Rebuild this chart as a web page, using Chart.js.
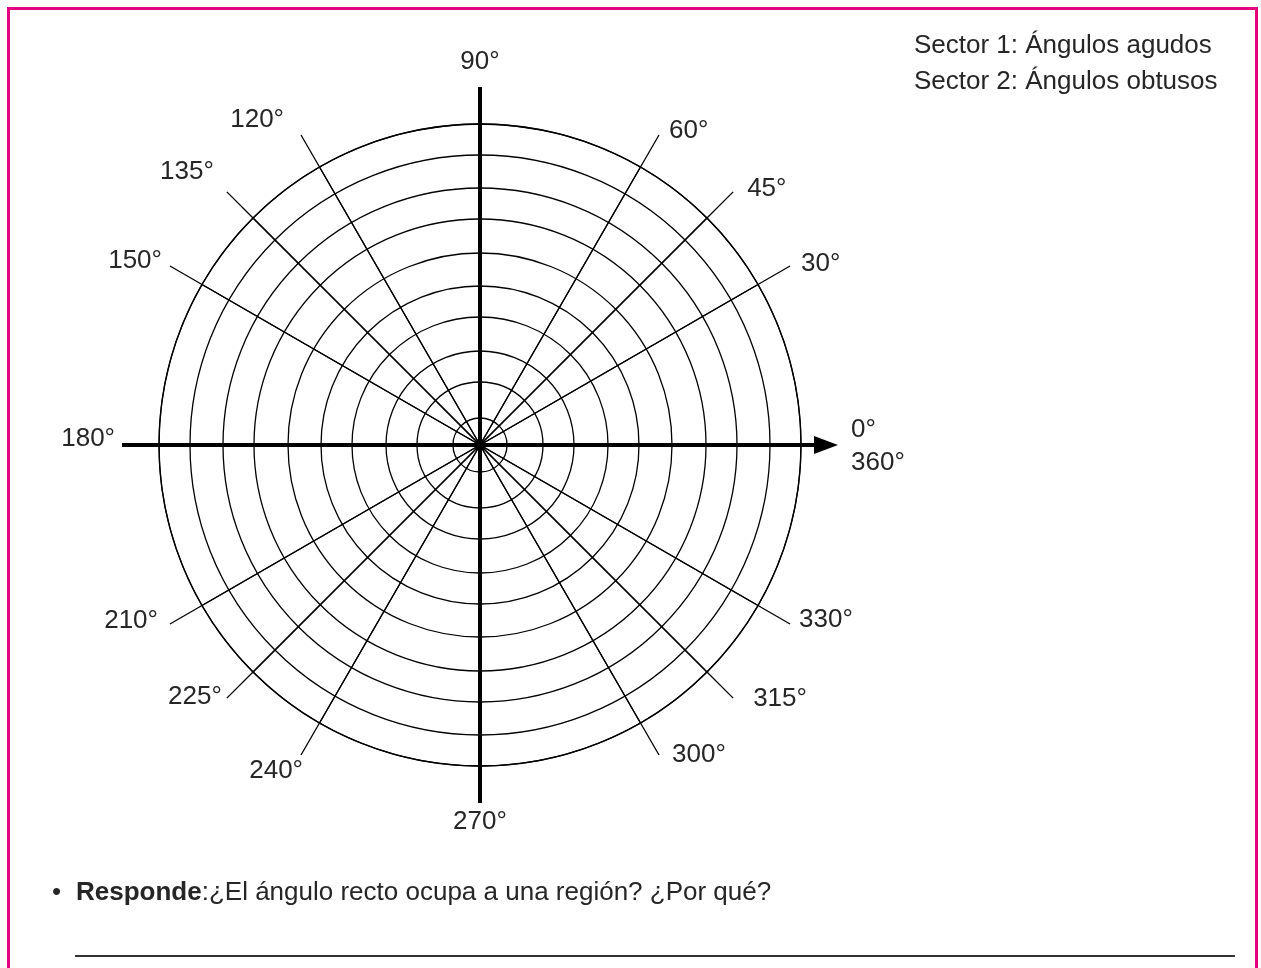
<!DOCTYPE html>
<html>
<head>
<meta charset="utf-8">
<script src="https://cdn.jsdelivr.net/npm/chart.js@4/dist/chart.umd.min.js"></script>
<style>
  body { margin: 0; width: 1261px; height: 968px; overflow: hidden; background: #fff; position: relative; font-family: "Liberation Sans", Arial, sans-serif; color: #262626; }
  .frame { position: absolute; left: 7px; top: 7px; width: 1245px; height: 1000px; border: 3px solid #e4007f; border-bottom: none; }
  #chart { position: absolute; left: 0; top: 0; }
  .legend { position: absolute; left: 914px; top: 26px; font-size: 26px; line-height: 36px; }
  .question { position: absolute; left: 52px; top: 876px; font-size: 26px; line-height: 30px; white-space: nowrap; }
  .question .dot { display: inline-block; width: 24px; }
  .answer { position: absolute; left: 75px; top: 955px; width: 1160px; border-top: 2px solid #333; }
</style>
</head>
<body>
<div class="frame"></div>
<canvas id="chart" width="1261" height="968"></canvas>
<div class="legend">Sector 1: Ángulos agudos<br>Sector 2: Ángulos obtusos</div>
<div class="question"><span class="dot">•</span><b>Responde</b>:¿El ángulo recto ocupa a una región? ¿Por qué?</div>
<div class="answer"></div>
<script>
// Rays of the protractor grid (degrees, counter-clockwise from the right)
const rayAngles = [0, 30, 45, 60, 90, 120, 135, 150, 180, 210, 225, 240, 270, 300, 315, 330];
const rayLabels = [['0°', '360°'], '30°', '45°', '60°', '90°', '120°', '135°', '150°', '180°', '210°', '225°', '240°', '270°', '300°', '315°', '330°'];
// Concentric rings, radius values
const ringRadii = [27, 63, 94, 128, 159, 192, 226, 257, 290, 321];
const rayLength = 358;

const outerRing = ringRadii[ringRadii.length - 1];

// Polar area arcs go clockwise from the top, so walk the rays from 90° downwards
const clockwise = rayAngles.map(a => (90 - a + 360) % 360).sort((a, b) => a - b);
const sectorWidths = clockwise.map((a, i) => (i + 1 < clockwise.length ? clockwise[i + 1] : 360) - a);

// Label placement next to the tip of each ray
const labelPlacement = {
  0:   {align: 'left',   dx: 13,  dy: -15},
  30:  {align: 'left',   dx: 11,  dy: -2},
  45:  {align: 'left',   dx: 14,  dy: -3},
  60:  {align: 'left',   dx: 10,  dy: -4},
  90:  {align: 'center', dx: 0,   dy: -25},
  120: {align: 'right',  dx: -17, dy: -15},
  135: {align: 'right',  dx: -13, dy: -20},
  150: {align: 'right',  dx: -8,  dy: -5},
  180: {align: 'right',  dx: -7,  dy: -6},
  210: {align: 'right',  dx: -12, dy: -3},
  225: {align: 'right',  dx: -5,  dy: -1},
  240: {align: 'right',  dx: 2,   dy: 16},
  270: {align: 'center', dx: 0,   dy: 19},
  300: {align: 'left',   dx: 13,  dy: 0},
  315: {align: 'left',   dx: 20,  dy: 1},
  330: {align: 'left',   dx: 9,   dy: -4}
};

// Draws the ray extensions, the thick axes with the arrow and the degree labels
const polarGuides = {
  id: 'polarGuides',
  afterDatasetsDraw(chart) {
    const scale = chart.scales.r;
    const ctx = chart.ctx;
    const toXY = (deg, value) => {
      const d = scale.getDistanceFromCenterForValue(value);
      const a = deg * Math.PI / 180;
      return {x: scale.xCenter + Math.cos(a) * d, y: scale.yCenter - Math.sin(a) * d};
    };
    ctx.save();
    ctx.strokeStyle = '#000';
    ctx.lineWidth = 1.3;
    rayAngles.forEach(deg => {
      if (deg % 90 === 0) return;
      const a = toXY(deg, outerRing);
      const b = toXY(deg, rayLength);
      ctx.beginPath();
      ctx.moveTo(a.x, a.y);
      ctx.lineTo(b.x, b.y);
      ctx.stroke();
    });

    // thick axes
    ctx.lineWidth = 4;
    const top = toXY(90, rayLength), bottom = toXY(270, rayLength);
    const left = toXY(180, rayLength), tip = toXY(0, rayLength);
    ctx.beginPath();
    ctx.moveTo(top.x, top.y);
    ctx.lineTo(bottom.x, bottom.y);
    ctx.moveTo(left.x, left.y);
    ctx.lineTo(tip.x - 20, tip.y);
    ctx.stroke();
    ctx.beginPath();
    ctx.moveTo(tip.x, tip.y);
    ctx.lineTo(tip.x - 24, tip.y - 9);
    ctx.lineTo(tip.x - 24, tip.y + 9);
    ctx.closePath();
    ctx.fillStyle = '#000';
    ctx.fill();

    // labels
    ctx.font = '26px "Liberation Sans", Arial, sans-serif';
    ctx.fillStyle = '#262626';
    ctx.textBaseline = 'middle';
    rayAngles.forEach((deg, i) => {
      const p = toXY(deg, rayLength);
      const place = labelPlacement[deg];
      const lines = [].concat(rayLabels[i]);
      ctx.textAlign = place.align;
      lines.forEach((line, k) => {
        ctx.fillText(line, p.x + place.dx, p.y + place.dy + k * 33);
      });
    });
    ctx.restore();
  }
};

const chart = new Chart(document.getElementById('chart'), {
  type: 'polarArea',
  data: {
    labels: sectorWidths.map((w, i) => 'Sector ' + (i + 1)),
    datasets: [{
      data: sectorWidths.map(() => outerRing),
      angle: sectorWidths,
      backgroundColor: 'rgba(0,0,0,0)',
      borderColor: '#000',
      borderWidth: 1.3
    }]
  },
  options: {
    responsive: false,
    animation: false,
    layout: {padding: {left: 122, right: 423, top: 87, bottom: 165}},
    plugins: {legend: {display: false}, tooltip: {enabled: false}},
    scales: {
      r: {
        min: 0,
        max: rayLength,
        startAngle: 0,
        afterBuildTicks: scale => {
          scale.ticks = [0].concat(ringRadii).map(v => ({value: v}));
        },
        ticks: {display: false},
        grid: {circular: true, color: '#000', lineWidth: 1.3},
        angleLines: {display: false},
        pointLabels: {display: false}
      }
    }
  },
  plugins: [polarGuides]
});
</script>
</body>
</html>
